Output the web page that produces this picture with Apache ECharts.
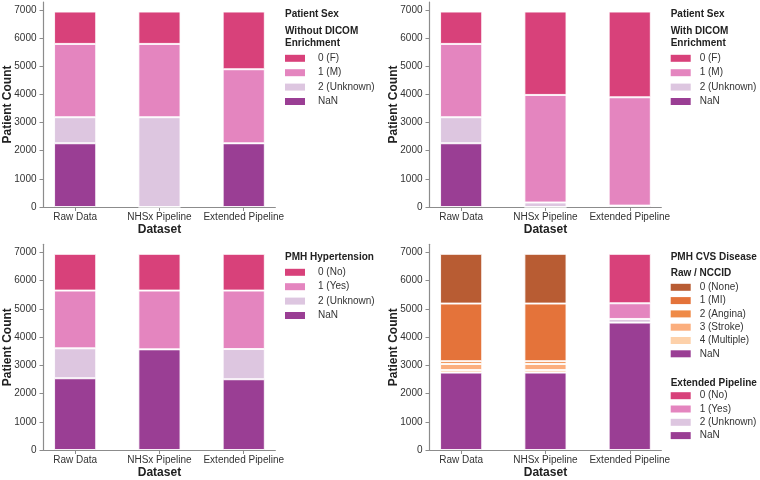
<!DOCTYPE html>
<html><head><meta charset="utf-8">
<script src="https://cdn.jsdelivr.net/npm/echarts@6/dist/echarts.min.js"></script>
<style>html,body{margin:0;padding:0;background:#fff}#c{width:760px;height:480px}</style>
</head><body><div id="c"></div>
<script>
// ---------- data ----------
const categories = ['Raw Data', 'NHSx Pipeline', 'Extended Pipeline'];
const yMin = 0, yMax = 7000, yInterval = 1000;

// Panel 1: Patient Sex without DICOM enrichment
const sexNoDicomF = [1150, 1150, 2050];
const sexNoDicomM = [2605, 2605, 2630];
const sexNoDicomUnknown = [925, 3190, 0];
const sexNoDicomNaN = [2265, 0, 2265];

// Panel 2: Patient Sex with DICOM enrichment
const sexDicomF = [1150, 2963, 3046];
const sexDicomM = [2605, 3822, 3849];
const sexDicomUnknown = [925, 160, 0];
const sexDicomNaN = [2265, 0, 50];

// Panel 3: PMH Hypertension
const htnNo = [1300, 1300, 1300];
const htnYes = [2045, 2080, 2070];
const htnUnknown = [1060, 0, 1070];
const htnNaN = [2540, 3565, 2505];

// Panel 4: PMH CVS Disease (Raw / NCCID coding for first two, Extended for third)
const cvsNone = [1760, 1760, null];
const cvsMI = [2040, 2040, null];
const cvsAngina = [100, 100, null];
const cvsStroke = [215, 215, null];
const cvsMultiple = [90, 90, null];
const cvsNaN = [2740, 2740, 4510];
const cvsExtNo = [null, null, 1750];
const cvsExtYes = [null, null, 555];
const cvsExtUnknown = [null, null, 130];

// ---------- styles ----------
const colors = {
  '0 (F)': '#d8417a', '1 (M)': '#e485bf', '2 (Unknown)': '#ddc6e0', 'NaN': '#9a3e94',
  '0 (No)': '#d8417a', '1 (Yes)': '#e485bf',
  '0 (None)': '#b85c33', '1 (MI)': '#e4733a', '2 (Angina)': '#ef8a47',
  '3 (Stroke)': '#fbae7d', '4 (Multiple)': '#fdd1aa'
};
const FONT = "'Liberation Sans', Arial, Helvetica, sans-serif";
const axisColor = '#8c8c8c';
const textColor = '#333';

const panels = [
  {bandLeft: 33, axisX: 43.5, top: 10, y0: 207, lineTop: 2,
   series: [['NaN', sexNoDicomNaN], ['2 (Unknown)', sexNoDicomUnknown], ['1 (M)', sexNoDicomM], ['0 (F)', sexNoDicomF]]},
  {bandLeft: 419, axisX: 429.5, top: 10, y0: 207, lineTop: 2,
   series: [['NaN', sexDicomNaN], ['2 (Unknown)', sexDicomUnknown], ['1 (M)', sexDicomM], ['0 (F)', sexDicomF]]},
  {bandLeft: 33, axisX: 43.5, top: 252.3, y0: 450, lineTop: 244.3,
   series: [['NaN', htnNaN], ['2 (Unknown)', htnUnknown], ['1 (Yes)', htnYes], ['0 (No)', htnNo]]},
  {bandLeft: 419, axisX: 429.5, top: 252.3, y0: 450, lineTop: 244.3,
   series: [['NaN', cvsNaN], ['4 (Multiple)', cvsMultiple], ['3 (Stroke)', cvsStroke], ['2 (Angina)', cvsAngina],
            ['1 (MI)', cvsMI], ['0 (None)', cvsNone], ['2 (Unknown)', cvsExtUnknown], ['1 (Yes)', cvsExtYes], ['0 (No)', cvsExtNo]]}
];
const unit = 84.3;

const grid = [], xAxis = [], yAxis = [], series = [];
panels.forEach((p, i) => {
  const w = unit * 3;
  const axisLen = unit * 2.75;
  grid.push({left: p.bandLeft, top: p.top, width: w, height: p.y0 - p.top});
  grid.push({left: p.axisX, top: p.lineTop, width: axisLen, height: p.y0 - p.lineTop});
  xAxis.push({
    type: 'category', gridIndex: 2 * i, data: categories,
    axisLine: {show: false},
    axisTick: {show: true, alignWithLabel: true, length: 4, lineStyle: {color: axisColor, width: 1}},
    axisLabel: {interval: 0, margin: 5, fontSize: 10, color: textColor, fontFamily: FONT},
    name: 'Dataset', nameLocation: 'middle', nameGap: 17,
    nameTextStyle: {fontSize: 12, fontWeight: 'bold', color: '#222', fontFamily: FONT}
  });
  xAxis.push({
    type: 'value', gridIndex: 2 * i + 1, min: 0, max: 1,
    axisLine: {show: true, lineStyle: {color: axisColor, width: 1.2}},
    axisTick: {show: false}, axisLabel: {show: false}, splitLine: {show: false}
  });
  yAxis.push({
    type: 'value', gridIndex: 2 * i, min: yMin, max: yMax, interval: yInterval,
    offset: -(p.axisX - p.bandLeft),
    axisLine: {show: false},
    axisTick: {show: true, length: 4, lineStyle: {color: axisColor, width: 1}},
    axisLabel: {margin: 7, fontSize: 10, color: textColor, fontFamily: FONT,
                formatter: v => String(v)},
    splitLine: {show: false}
  });
  yAxis.push({
    type: 'value', gridIndex: 2 * i + 1, min: 0, max: 1,
    axisLine: {show: true, lineStyle: {color: axisColor, width: 1.2}},
    axisTick: {show: false}, axisLabel: {show: false}, splitLine: {show: false},
    name: 'Patient Count', nameLocation: 'middle', nameGap: 30,
    nameTextStyle: {fontSize: 12, fontWeight: 'bold', color: '#222', fontFamily: FONT}
  });
  p.series.forEach(([name, data]) => {
    series.push({
      type: 'bar', name: name, data: data, stack: 'p' + i,
      xAxisIndex: 2 * i, yAxisIndex: 2 * i, barWidth: '50%',
      itemStyle: {color: colors[name], borderColor: 'rgba(255,255,255,0.85)', borderWidth: 1},
      emphasis: {disabled: true}
    });
  });
});

function legendOf(left, top, gap, pad, data) {
  return {
    orient: 'vertical', left: left, top: top, padding: 0, itemGap: gap,
    itemWidth: 20, itemHeight: 7, icon: 'rect', selectedMode: false,
    itemStyle: {borderWidth: 0},
    textStyle: {fontSize: 10, color: textColor, fontFamily: FONT, lineHeight: 12, padding: [0, 0, 0, pad]},
    data: data
  };
}
const sexLegend = ['0 (F)', '1 (M)', '2 (Unknown)', 'NaN'];
const ynLegend = ['0 (No)', '1 (Yes)', '2 (Unknown)', 'NaN'];
const cvsLegend = ['0 (None)', '1 (MI)', '2 (Angina)', '3 (Stroke)', '4 (Multiple)', 'NaN'];

const legend = [
  legendOf(285, 52.3, 2.4, 8, sexLegend),
  legendOf(670.7, 52.3, 2.4, 4, sexLegend),
  legendOf(285, 266.3, 2.4, 8, ynLegend),
  legendOf(670.7, 281.3, 1.3, 4, cvsLegend),
  legendOf(670.7, 389.7, 1.3, 4, ynLegend)
];

function t(text, left, top) {
  return {text: text, left: left, top: top, padding: 0,
    textStyle: {fontSize: 10, fontWeight: 'bold', color: '#222', fontFamily: FONT, lineHeight: 12.3}};
}
const title = [
  t('Patient Sex', 285, 8), t('Without DICOM\nEnrichment', 285, 25),
  t('Patient Sex', 670.7, 8), t('With DICOM\nEnrichment', 670.7, 25),
  t('PMH Hypertension', 285, 251.3),
  t('PMH CVS Disease', 670.7, 251.3), t('Raw / NCCID', 670.7, 267.3),
  t('Extended Pipeline', 670.7, 376.7)
];

const chart = echarts.init(document.getElementById('c'), null, {renderer: 'canvas'});
chart.setOption({
  animation: false,
  backgroundColor: '#fff',
  textStyle: {fontFamily: FONT},
  title: title, legend: legend, grid: grid, xAxis: xAxis, yAxis: yAxis, series: series
});
</script>
</body></html>
